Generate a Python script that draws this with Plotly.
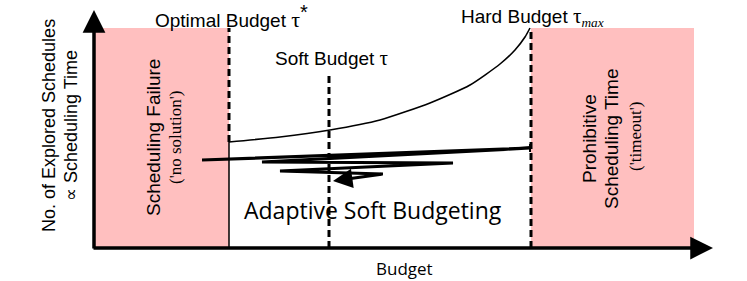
import plotly.graph_objects as go

# ---- data (budget units along x, explored-schedule units along y) ----
tau_opt, tau_soft, tau_max = 135, 235, 437
budget_lines_x = [tau_opt, tau_soft, tau_max]
budget_lines_bottom = [106, 0, 0]
budget_lines_top = [220, 175, 220]
budget_labels = ["Optimal Budget <span style='font-family:Liberation Serif;font-size:22px'>τ</span><sup><span style='font-size:20px'>*</span></sup>",
                 "Soft Budget <span style='font-family:Liberation Serif;font-size:21px'>τ</span>",
                 "Hard Budget <span style='font-family:Liberation Serif;font-size:21px'>τ</span><sub><i><span style='font-family:Liberation Serif'>max</span></i></sub>"]

region_top = 220
fail_region = [0, tau_opt]
timeout_region = [tau_max, 600]

curve_x = [135, 186, 236, 286, 336, 376, 406, 421, 431, 436]
curve_y = [106, 111, 118, 128, 145, 163, 184, 198, 211, 220]

zig_x = [108, 436, 168, 359, 186, 289]
zig_y = [88, 100, 86, 85, 77, 74]
zig_arrow_end = (239, 67)

axis_x_end = 619
axis_y_end = 238

# ---- pixel frame helpers (layout only) ----
W, H = 747, 281
OX, OY = 94, 248
def dx(px):
    return px - OX
def dy(py):
    return OY - py

PINK = "rgb(255,191,191)"
SANS = "Liberation Sans, Arial, sans-serif"
SERIF = "Liberation Serif, Times New Roman, serif"

fig = go.Figure()

# shaded regions
for lo, hi in (fail_region, timeout_region):
    fig.add_shape(type="rect", x0=lo, x1=hi, y0=0, y1=region_top,
                  fillcolor=PINK, line_width=0, layer="below")

# thin solid part under the optimal budget line
fig.add_trace(go.Scatter(x=[tau_opt, tau_opt], y=[0, curve_y[0]], mode="lines",
                         line=dict(color="black", width=1.5), hoverinfo="skip"))

# dashed budget lines
for bx, b0, b1 in zip(budget_lines_x, budget_lines_bottom, budget_lines_top):
    fig.add_trace(go.Scatter(x=[bx, bx], y=[b0, b1], mode="lines",
                             line=dict(color="black", width=3, dash="7px,4px"),
                             hoverinfo="skip"))

# exponential-like curve
fig.add_trace(go.Scatter(x=curve_x, y=curve_y, mode="lines", line_shape="spline",
                         line=dict(color="black", width=1.6, smoothing=0.6), hoverinfo="skip"))

# zigzag adaptive path
fig.add_trace(go.Scatter(x=zig_x, y=zig_y, mode="lines",
                         line=dict(color="black", width=3.2), hoverinfo="skip"))
# tick at hard budget end
fig.add_trace(go.Scatter(x=[zig_x[1], zig_x[1]], y=[zig_y[1] - 4, zig_y[1] + 4], mode="lines",
                         line=dict(color="black", width=2), hoverinfo="skip"))

annotations = []
# arrow at end of zigzag
annotations.append(dict(x=zig_arrow_end[0], y=zig_arrow_end[1], ax=zig_x[-1], ay=zig_y[-1],
                        xref="x", yref="y", axref="x", ayref="y", text="", showarrow=True,
                        arrowhead=2, arrowsize=1.3, arrowwidth=3, arrowcolor="black", standoff=0))
# axes arrows
annotations.append(dict(x=0, y=axis_y_end, ax=0, ay=-2, xref="x", yref="y", axref="x", ayref="y",
                        text="", showarrow=True, arrowhead=2, arrowsize=1.3, arrowwidth=3.5,
                        arrowcolor="black", standoff=0))
annotations.append(dict(x=axis_x_end, y=0, ax=-2, ay=0, xref="x", yref="y", axref="x", ayref="y",
                        text="", showarrow=True, arrowhead=2, arrowsize=1.3, arrowwidth=3.5,
                        arrowcolor="black", standoff=0))

def txt(text, px, py, size, family=SANS, angle=0):
    annotations.append(dict(x=dx(px), y=dy(py), xref="x", yref="y", text=text, showarrow=False,
                            textangle=angle, font=dict(size=size, family=family, color="black"),
                            xanchor="center", yanchor="middle"))

txt(budget_labels[0], 231, 16, 19)
txt(budget_labels[1], 331, 58, 19)
txt(budget_labels[2], 532, 17, 19)
txt("Adaptive Soft Budgeting", 373, 210, 23, family="Open Sans, sans-serif")
txt("Budget", 404, 268, 17, family="Open Sans, sans-serif")
txt("No. of Explored Schedules", 49, 126, 18, angle=-90)
txt("∝ Scheduling Time", 71, 126, 18, angle=-90)
txt("Scheduling Failure", 153, 138, 19, angle=-90)
txt("('no solution')", 175, 138, 17, family=SERIF, angle=-90)
txt("Prohibitive", 589, 139, 19, angle=-90)
txt("Scheduling Time", 611, 139, 19, angle=-90)
txt("('timeout')", 635, 137, 17, family=SERIF, angle=-90)

fig.update_layout(
    width=W, height=H, margin=dict(l=0, r=0, t=0, b=0),
    paper_bgcolor="white", plot_bgcolor="white", showlegend=False,
    xaxis=dict(range=[-OX, W - OX], visible=False, fixedrange=True),
    yaxis=dict(range=[OY - H, OY], visible=False, fixedrange=True),
    annotations=annotations,
)

fig.write_html("out.html", config={"displayModeBar": False},
               post_script="document.body.style.margin='0';document.body.style.overflow='hidden';")
